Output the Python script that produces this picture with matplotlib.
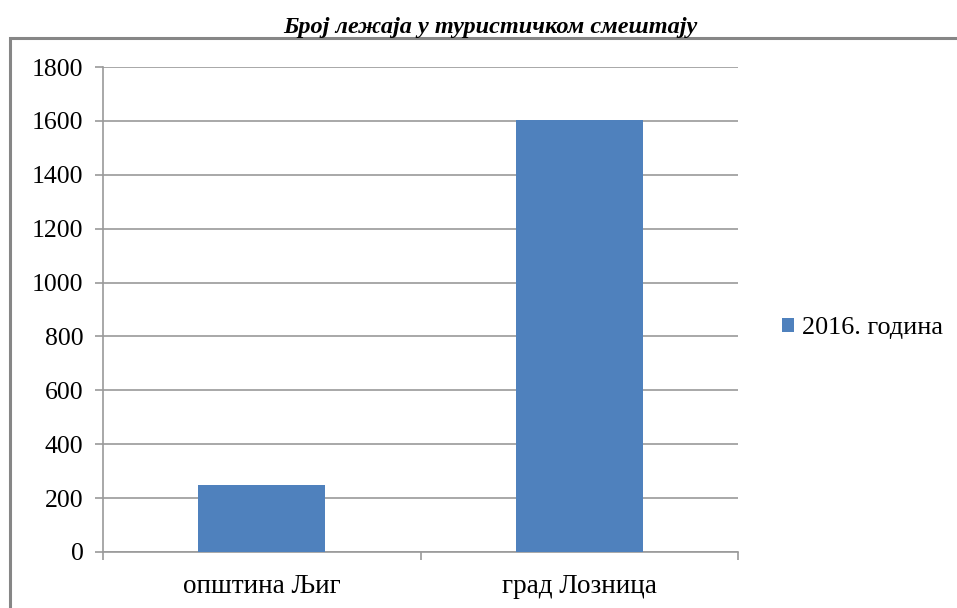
import matplotlib.pyplot as plt
from matplotlib.patches import Rectangle

categories = ['општина Љиг', 'град Лозница']
values = [250, 1605]
series_name = '2016. година'
title = 'Број лежаја у туристичком смештају'

plt.rcParams['font.family'] = ['Liberation Serif', 'DejaVu Serif']

fig = plt.figure(figsize=(9.57, 6.08), dpi=100)
ax = fig.add_axes([103 / 957, 1 - 552 / 608, 635 / 957, 485 / 608])

grid_c = '#9a9a9a'
x = range(len(categories))
ax.bar(x, values, width=0.4, color='#4f81bd', label=series_name, zorder=3)

ax.set_xlim(-0.5, len(categories) - 0.5)
ax.set_ylim(0, 1800)
ax.set_yticks(range(0, 1801, 200))
ax.yaxis.grid(True, color=grid_c, linewidth=1.2, zorder=0)

ax.set_xticks(list(x))
ax.set_xticklabels(categories)
ax.set_xticks([-0.5, 0.5, 1.5], minor=True)
ax.tick_params(axis='x', which='major', length=0, pad=16, labelsize=19.5)
ax.tick_params(axis='x', which='minor', length=6, color=grid_c, width=1.2)
ax.tick_params(axis='y', length=6, color=grid_c, width=1.2, pad=8, labelsize=18.5)

for s in ['top', 'right']:
    ax.spines[s].set_visible(False)
for s in ['left', 'bottom']:
    ax.spines[s].set_color(grid_c)
    ax.spines[s].set_linewidth(1.2)

fig.text(490 / 957, 1 - 28 / 608, title, ha='center', va='center',
         fontsize=17.5, fontweight='bold', fontstyle='italic')

# chart area border
fig.patches.append(Rectangle((10 / 957, -0.05), 1.0, 1 - 38 / 608 + 0.05,
                             transform=fig.transFigure, fill=False,
                             edgecolor='#868686', linewidth=2.2))

fig.legend(loc='center left', bbox_to_anchor=(772 / 957, 1 - 328 / 608),
           frameon=False, fontsize=18.8, handlelength=0.45, handleheight=0.45,
           handletextpad=0.3, borderaxespad=0)

fig.savefig('out.png', dpi=100)
